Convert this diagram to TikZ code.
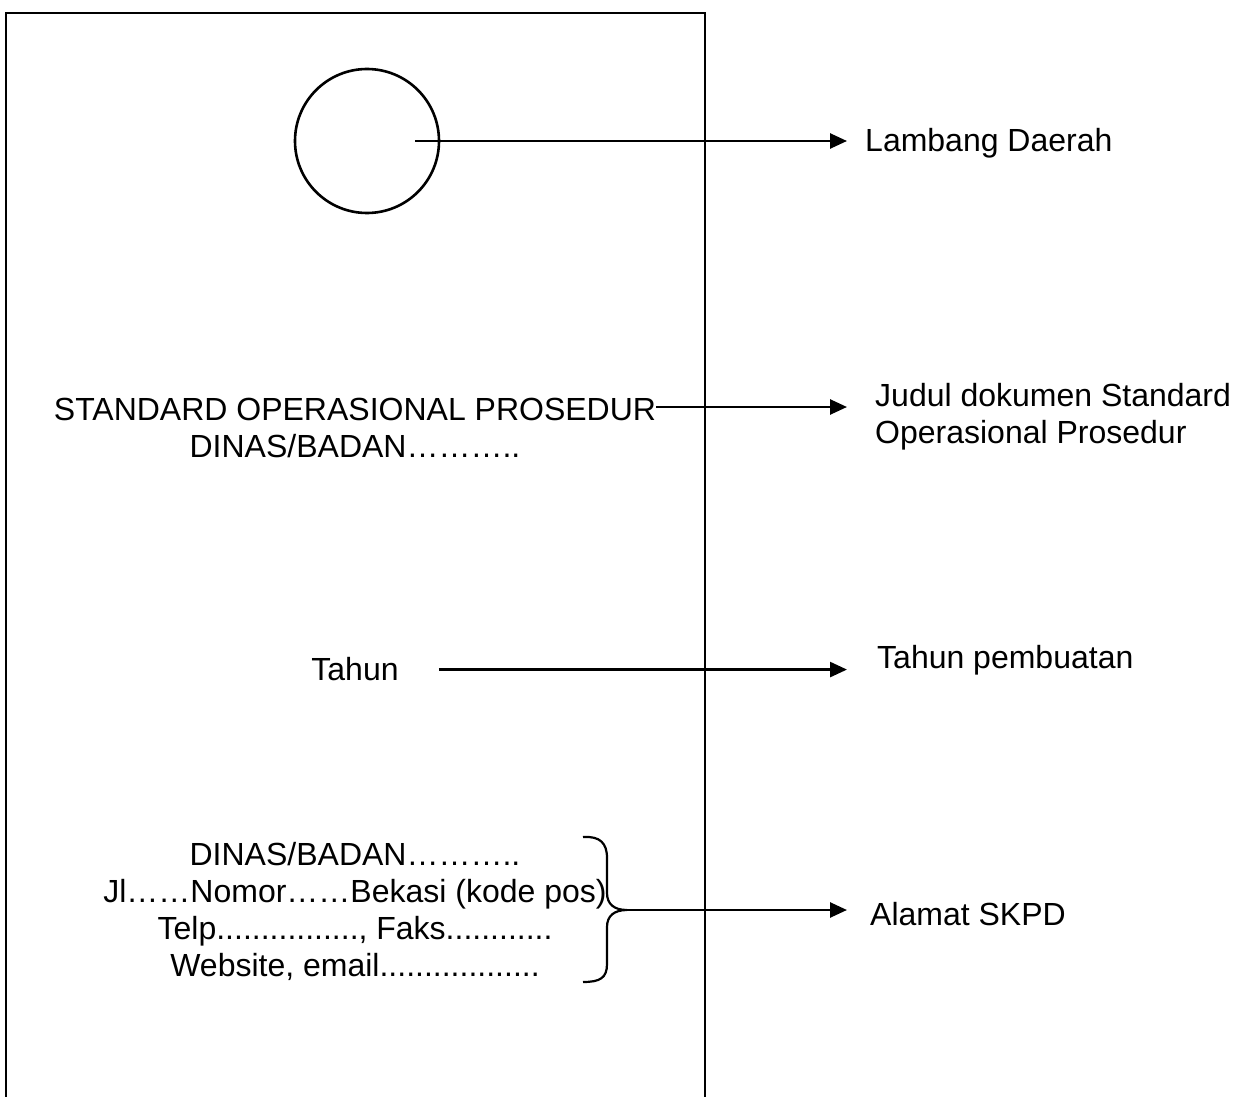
\documentclass[tikz,border=0pt]{standalone}
\usepackage{fontspec}
\setmainfont{Liberation Sans}
\usetikzlibrary{arrows.meta}

\begin{document}
\begin{tikzpicture}[x=1pt,y=-1pt,
    garis/.style={line width=2.6pt},
    panah/.style={garis,-{Triangle[length=17pt,width=15pt]}},
    tulisan/.style={inner sep=0pt,font=\fontsize{32}{37}\selectfont},
    keterangan/.style={tulisan,align=left}
]
    \newcommand{\kurungKanan}{
        \draw[line width=2.2pt] (583,837) .. controls (600,836) and (607,843) .. (607,858)
            -- (607,893) .. controls (607,904) and (614,910) .. (ujungKurung)
            .. controls (614,910) and (607,916) .. (607,927)
            -- (607,964) .. controls (607,978) and (600,982) .. (583,982);
    }
  \useasboundingbox (0,0) rectangle (1243,1097);

  % halaman sampul
  \draw[garis] (6,1097) -- (6,13) -- (705,13) -- (705,1097);

  \node[circle,draw,garis,minimum size=144pt,inner sep=0pt] (logo) at (367,141) {};
  \node[tulisan,align=center,anchor=north] (judulSop) at (355,398)
    {STANDARD OPERASIONAL PROSEDUR\\DINAS/BADAN………..};
  \node[tulisan,anchor=base] (tahun) at (355,680) {Tahun};
  \node[tulisan,align=center,anchor=north] (alamat) at (355,842)
    {DINAS/BADAN………..\\Jl……Nomor……Bekasi (kode pos)\\Telp................, Faks............\\Website, email..................};
  \coordinate (ujungKurung) at (627,910);
  \kurungKanan

  % keterangan
  \node[keterangan,anchor=base west,inner xsep=18pt] (lambang) at (847,152) {Lambang Daerah};
  \node[keterangan,anchor=north west,inner xsep=28pt] (judulKet) at (847,383)
    {Judul dokumen Standard\\Operasional Prosedur};
  \node[keterangan,anchor=base west,inner xsep=30pt] (tahunKet) at (847,668) {Tahun pembuatan};
  \node[keterangan,anchor=base west,inner xsep=23pt] (alamatKet) at (847,925) {Alamat SKPD};

  \draw[panah] ([xshift=48pt]logo.center) -- (logo.center -| lambang.west);
  \draw[panah] ([yshift=-9pt]judulSop.north east) coordinate (sopKanan) -- (sopKanan -| judulKet.west);
  \draw[panah] ([xshift=40pt,yshift=-1pt]tahun.east) coordinate (tahunKanan) -- (tahunKanan -| tahunKet.west);
  \draw[panah] (ujungKurung) -- (ujungKurung -| alamatKet.west);

\end{tikzpicture}
\end{document}
